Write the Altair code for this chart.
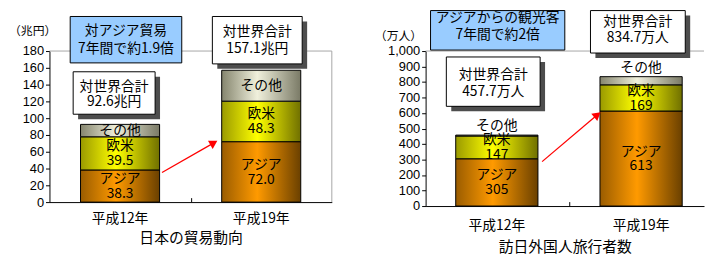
import altair as alt
import pandas as pd

# ---------------- data ----------------
years = ["平成12年", "平成19年"]
series = ["アジア", "欧米", "その他"]

trade_asia = [38.3, 72.0]
trade_west = [39.5, 48.3]
trade_other = [14.8, 36.8]
trade_total = [92.6, 157.1]
trade_ticks = [0, 20, 40, 60, 80, 100, 120, 140, 160, 180]

visit_asia = [305, 613]
visit_west = [147, 169]
visit_other = [5.7, 52.7]
visit_total = [457.7, 834.7]
visit_ticks = [0, 100, 200, 300, 400, 500, 600, 700, 800, 900, 1000]

FONT_JP = "Noto Sans CJK JP"
FONT_NUM = "Liberation Sans"


def build(asia, west, other, fmt):
    rows = []
    for i, y in enumerate(years):
        start = 0.0
        for s, v in zip(series, [asia[i], west[i], other[i]]):
            rows.append(dict(year=y, series=s, start=start, end=start + v,
                             mid=start + v / 2, value=fmt.format(v)))
            start += v
    return pd.DataFrame(rows)


def grad(left, center, right, mid=0.45):
    return alt.LinearGradient(
        gradient="linear", x1=0, x2=1, y1=0, y2=0,
        stops=[alt.GradientStop(color=left, offset=0),
               alt.GradientStop(color=center, offset=mid),
               alt.GradientStop(color=right, offset=1)])


GRADS = {
    "アジア": grad("#9a5c00", "#ff9a00", "#6a4000"),
    "欧米": grad("#9a9a00", "#ffff00", "#707000"),
    "その他": grad("#85856e", "#f0f0dc", "#7a7a66"),
}

one = pd.DataFrame({"k": [0]})


def panel(df, W, H, ymax, ticks, yfmt, xscale, label_pad, title, title_pad,
          other_above, unit_label, unit_xy, boxes, arrow, boundary_x, anchor, right_border):
    X = alt.X("year:N", sort=years, scale=xscale,
              axis=alt.Axis(title=title, labelAngle=0, ticks=False, tickSize=0,
                            labelPadding=label_pad, titlePadding=title_pad,
                            domainColor="black", labelFont=FONT_JP, labelFontSize=14,
                            labelColor="black", titleFont=FONT_JP, titleFontSize=15,
                            titleFontWeight="normal", titleColor="black", grid=False))
    yscale = alt.Scale(domain=[0, ymax], nice=False, zero=True)
    yaxis = alt.Axis(values=ticks, format=yfmt, title=None, tickSize=4, labelPadding=2,
                     tickColor="black", domainColor="black", labelFont=FONT_NUM,
                     labelFontSize=13, labelColor="black", grid=False)
    layers = []
    if anchor:
        layers.append(alt.Chart(one).mark_rect(fill="white").encode(
            x=alt.value(-41), x2=alt.value(-40), y=alt.value(-42), y2=alt.value(-41)))
    # gray plot border (top, and right when inside window)
    layers.append(alt.Chart(one).mark_rule(color="#a6a6a6").encode(
        x=alt.value(0), x2=alt.value(W), y=alt.value(0)))
    if right_border:
        layers.append(alt.Chart(one).mark_rule(color="#a6a6a6").encode(
            x=alt.value(W), y=alt.value(0), y2=alt.value(H)))
    # stacked bars
    for s in series:
        layers.append(alt.Chart(df).transform_filter(alt.datum.series == s)
                      .mark_bar(fill=GRADS[s], stroke="black", strokeWidth=1)
                      .encode(x=X, y=alt.Y("start:Q", scale=yscale, axis=yaxis),
                              y2="end:Q"))
    # labels in bars
    main = df[df.series != "その他"]
    layers.append(alt.Chart(main).mark_text(dy=-7, font=FONT_JP, fontSize=14, color="black")
                  .encode(x=X, y=alt.Y("mid:Q", scale=yscale, axis=yaxis), text="series:N"))
    layers.append(alt.Chart(main).mark_text(dy=8, font=FONT_JP, fontSize=14, color="black")
                  .encode(x=X, y=alt.Y("mid:Q", scale=yscale, axis=yaxis), text="value:N"))
    oth = df[df.series == "その他"]
    if other_above:
        layers.append(alt.Chart(oth).mark_text(dy=-9, font=FONT_JP, fontSize=14, color="black")
                      .encode(x=X, y=alt.Y("end:Q", scale=yscale, axis=yaxis), text="series:N"))
    else:
        layers.append(alt.Chart(oth).mark_text(font=FONT_JP, fontSize=14, color="black")
                      .encode(x=X, y=alt.Y("mid:Q", scale=yscale, axis=yaxis), text="series:N"))
    # x boundary tick
    layers.append(alt.Chart(one).mark_rule(color="black").encode(
        x=alt.value(boundary_x), y=alt.value(H - 4), y2=alt.value(H)))
    # unit label
    layers.append(alt.Chart(one).mark_text(font=FONT_JP, fontSize=12, color="black").encode(
        x=alt.value(unit_xy[0]), y=alt.value(unit_xy[1]), text=alt.value(unit_label)))
    # annotation boxes
    for b in boxes:
        if b["shadow"]:
            layers.append(alt.Chart(one).mark_rect(fill="#4d4d4d").encode(
                x=alt.value(b["x1"] + 5), x2=alt.value(b["x2"] + 5),
                y=alt.value(b["y1"] + 5), y2=alt.value(b["y2"] + 5)))
        layers.append(alt.Chart(one).mark_rect(fill=b["fill"], stroke="black", strokeWidth=1).encode(
            x=alt.value(b["x1"]), x2=alt.value(b["x2"]),
            y=alt.value(b["y1"]), y2=alt.value(b["y2"])))
        cx = (b["x1"] + b["x2"]) / 2
        for line, yy in zip(b["lines"], b["ys"]):
            layers.append(alt.Chart(one).mark_text(font=FONT_JP, fontSize=14, color="black").encode(
                x=alt.value(cx), y=alt.value(yy), text=alt.value(line)))
    # arrow
    (sx, sy), (ex, ey), ang = arrow
    layers.append(alt.Chart(one).mark_rule(color="#ff0000", strokeWidth=1.3).encode(
        x=alt.value(sx), y=alt.value(sy), x2=alt.value(ex), y2=alt.value(ey)))
    layers.append(alt.Chart(one).mark_point(shape="triangle-up", filled=True, color="#ff0000",
                                            size=90, angle=ang, opacity=1).encode(
        x=alt.value(ex), y=alt.value(ey)))
    return alt.layer(*layers).properties(width=W, height=H)


trade_df = build(trade_asia, trade_west, trade_other, "{:.1f}")
visit_df = build(visit_asia, visit_west, visit_other, "{:.0f}")

left = panel(
    trade_df, 286, 153, 180, trade_ticks, "d",
    alt.Scale(paddingInner=0.44, paddingOuter=0.22), 10, "日本の貿易動向", 5,
    False, "（兆円）", (-17, -20),
    [
        dict(x1=21, x2=134, y1=-35, y2=12, lines=["対アジア貿易", "7年間で約1.9倍"],
             ys=[-20, -2], fill="#99ccff", shadow=False),
        dict(x1=165, x2=256, y1=-35, y2=13, lines=["対世界合計", f"{trade_total[1]}兆円"],
             ys=[-19, -2], fill="white", shadow=True),
        dict(x1=24, x2=107, y1=21, y2=64, lines=["対世界合計", f"{trade_total[0]}兆円"],
             ys=[36, 52], fill="white", shadow=True),
    ],
    ((114, 123), (166.5, 93), 60), 144, True, True)

right = panel(
    visit_df, 282, 157, 1000, visit_ticks, ",d",
    alt.Scale(paddingInner=0.43, paddingOuter=0.18, align=0.58), 13, "訪日外国人旅行者数", 7,
    True, "（万人）", (-27.5, -15),
    [
        dict(x1=5, x2=141, y1=-41, y2=-1, lines=["アジアからの観光客", "7年間で約2倍"],
             ys=[-33, -16], fill="#99ccff", shadow=False),
        dict(x1=167, x2=263, y1=-41, y2=2, lines=["対世界合計", f"{visit_total[1]}万人"],
             ys=[-29, -13], fill="white", shadow=True),
        dict(x1=21, x2=116, y1=6, y2=56, lines=["対世界合計", f"{visit_total[0]}万人"],
             ys=[24, 42], fill="white", shadow=True),
    ],
    ((118, 112), (174, 64.6), 50), 146, False, False)

chart = alt.hconcat(left, right, spacing=95, bounds="flush").properties(
    padding={"left": 0, "top": 0, "right": 0, "bottom": 0},
    background="white",
).configure_view(stroke=None)

chart.save("out.html", embed_options={"renderer": "svg", "actions": False})
